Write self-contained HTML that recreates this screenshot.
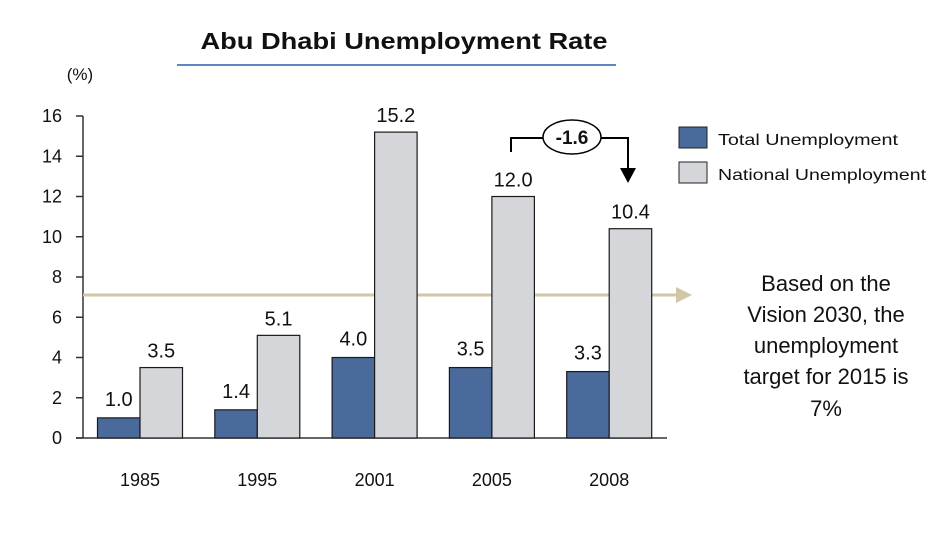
<!DOCTYPE html>
<html><head><meta charset="utf-8"><style>
body{margin:0;background:#fff;}
svg text{font-family:"Liberation Sans",sans-serif;fill:#111;}
</style></head><body>
<svg width="943" height="530" viewBox="0 0 943 530">
<text x="404" y="49" text-anchor="middle" font-size="23" font-weight="bold" textLength="407" lengthAdjust="spacingAndGlyphs">Abu Dhabi Unemployment Rate</text>
<line x1="177" y1="65" x2="616" y2="65" stroke="#5b87c5" stroke-width="2"/>
<text x="80" y="80" text-anchor="middle" font-size="17">(%)</text>
<g id="axes"></g>
<line x1="83" y1="295" x2="678" y2="295" stroke="#cfc7a8" stroke-width="3"/>
<polygon points="676,287 692,295 676,303" fill="#cfc7a8"/>
<g id="bars"></g>
<path d="M511,152 V138 H543 M601,138 H628 V170" fill="none" stroke="#000" stroke-width="2"/>
<polygon points="620,168 636,168 628,183" fill="#000"/>
<ellipse cx="572" cy="137" rx="29" ry="17" fill="#fff" stroke="#000" stroke-width="1.5"/>
<text x="572" y="144" text-anchor="middle" font-size="19" font-weight="bold">-1.6</text>
<rect x="679" y="127" width="28" height="21" fill="#4a6a9b" stroke="#222"/>
<text x="718" y="145" font-size="16" textLength="180" lengthAdjust="spacingAndGlyphs">Total Unemployment</text>
<rect x="679" y="162" width="28" height="21" fill="#d4d6da" stroke="#222"/>
<text x="718" y="180" font-size="16" textLength="208" lengthAdjust="spacingAndGlyphs">National Unemployment</text>
<g font-size="22" text-anchor="middle">
<text x="826" y="291">Based on the</text>
<text x="826" y="322">Vision 2030, the</text>
<text x="826" y="353">unemployment</text>
<text x="826" y="384">target for 2015 is</text>
<text x="826" y="416">7%</text>
</g>
</svg>
<script>
const categories=["1985","1995","2001","2005","2008"];
const totalValues=[1.0,1.4,4.0,3.5,3.3];
const nationalValues=[3.5,5.1,15.2,12.0,10.4];
const yTicks=[0,2,4,6,8,10,12,14,16];
const NS="http://www.w3.org/2000/svg";
const y0=438,yTop=116,yMax=16;
function yScale(v){return y0-(y0-yTop)*v/yMax;}
function xCenter(i){return 140+i*117.3;}
const axes=document.getElementById('axes'),bars=document.getElementById('bars');
function mk(tag,attrs,parent){const e=document.createElementNS(NS,tag);for(const k in attrs)e.setAttribute(k,attrs[k]);parent.appendChild(e);return e;}
let a=mk('line',{x1:83,y1:yTop,x2:83,y2:y0,stroke:'#333','stroke-width':1.5},axes);


let b=mk('line',{x1:76,y1:y0,x2:667,y2:y0,stroke:'#333','stroke-width':1.5},axes);


yTicks.forEach(t=>{const y=yScale(t);
 const l=mk('line',{x1:76,y1:y,x2:83,y2:y,stroke:'#333','stroke-width':1.5},axes);
 
 
 const tx=mk('text',{x:62,y:y+6,'text-anchor':'end','font-size':18},axes);tx.textContent=t;
 
 
});
const bw=42.5;
categories.forEach((c,i)=>{const cx=xCenter(i);
 const yt=yScale(totalValues[i]);
 const r1=mk('rect',{x:cx-bw,y:yt,width:bw,height:y0-yt,fill:'#4a6a9b',stroke:'#1a1a1a','stroke-width':1.2},bars);
 
 
 const yn=yScale(nationalValues[i]);
 const r2=mk('rect',{x:cx,y:yn,width:bw,height:y0-yn,fill:'#d4d6da',stroke:'#1a1a1a','stroke-width':1.2},bars);
 
 
 const t1=mk('text',{x:cx-bw/2,y:yt-12,'text-anchor':'middle','font-size':20},bars);t1.textContent=totalValues[i].toFixed(1);
 
 
 const t2=mk('text',{x:cx+bw/2,y:yn-10,'text-anchor':'middle','font-size':20},bars);t2.textContent=nationalValues[i].toFixed(1);
 
 
 const cl=mk('text',{x:cx,y:486,'text-anchor':'middle','font-size':18},bars);cl.textContent=c;
 
 
});
</script>
</body></html>
